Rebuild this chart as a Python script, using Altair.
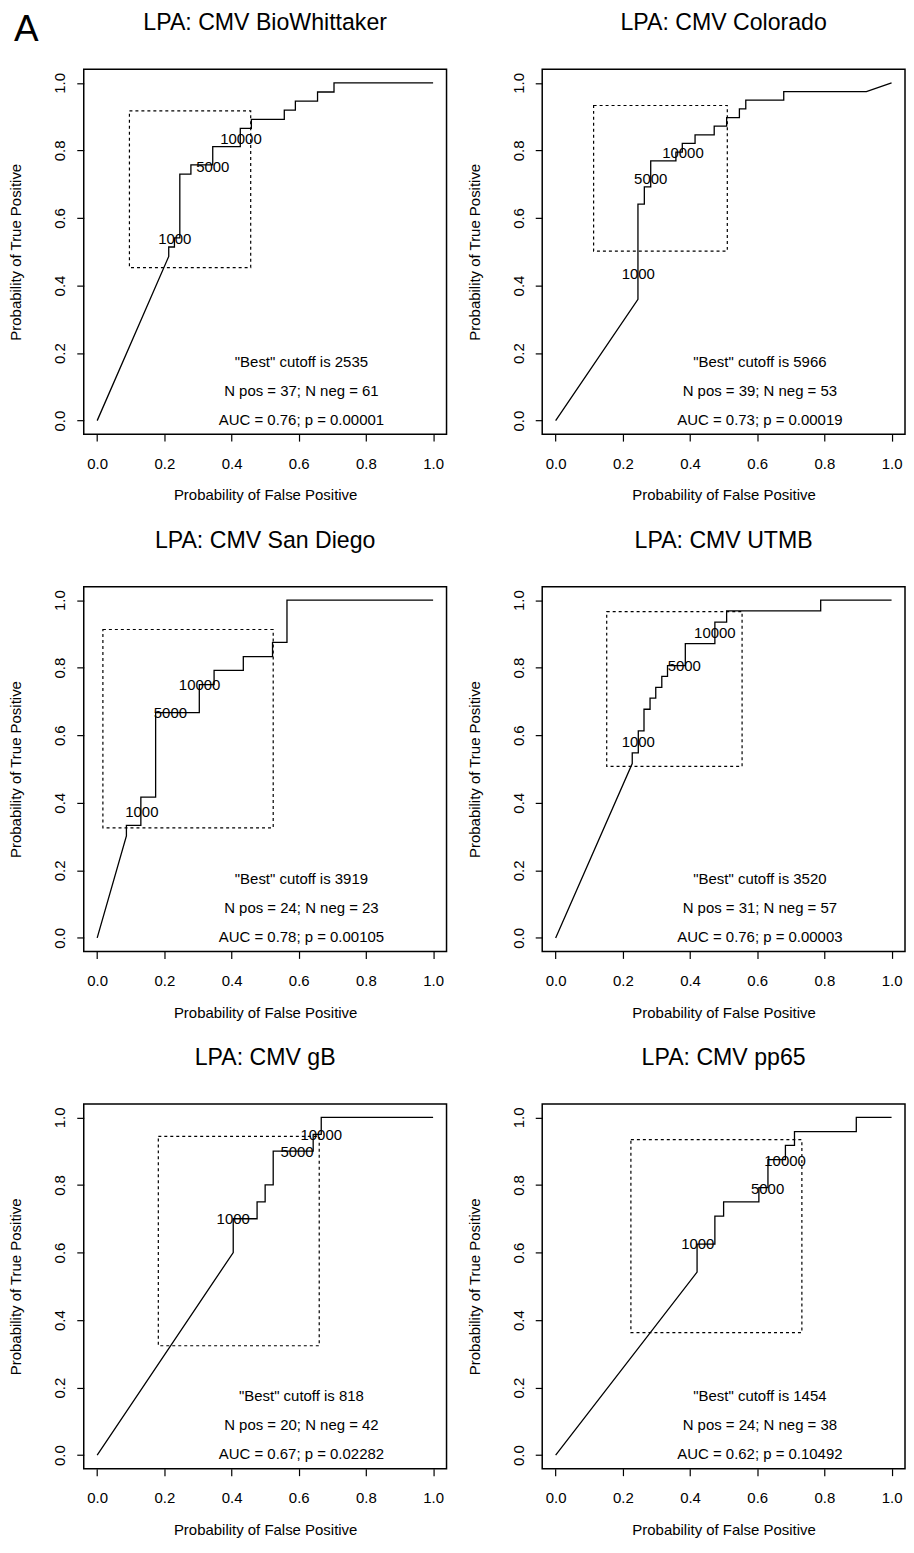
import altair as alt
import pandas as pd

FONT = "Liberation Sans"

# ---------------- data ----------------
titles = ["LPA: CMV BioWhittaker", "LPA: CMV Colorado", "LPA: CMV San Diego",
          "LPA: CMV UTMB", "LPA: CMV gB", "LPA: CMV pp65"]

curve_x = [
    [0, 0.213, 0.213, 0.230, 0.230, 0.246, 0.246, 0.279, 0.279, 0.344, 0.344, 0.426, 0.426,
     0.459, 0.459, 0.557, 0.557, 0.590, 0.590, 0.656, 0.656, 0.705, 0.705, 1.0],
    [0, 0.245, 0.245, 0.264, 0.264, 0.283, 0.283, 0.358, 0.358, 0.377, 0.377, 0.415, 0.415,
     0.472, 0.472, 0.509, 0.509, 0.547, 0.547, 0.566, 0.566, 0.679, 0.679, 0.925, 1.0],
    [0, 0.087, 0.087, 0.130, 0.130, 0.174, 0.174, 0.304, 0.304, 0.348, 0.348, 0.435, 0.435,
     0.522, 0.522, 0.565, 0.565, 1.0],
    [0, 0.228, 0.228, 0.246, 0.246, 0.263, 0.263, 0.281, 0.281, 0.298, 0.298, 0.316, 0.316,
     0.333, 0.333, 0.386, 0.386, 0.474, 0.474, 0.509, 0.509, 0.789, 0.789, 1.0],
    [0, 0.405, 0.405, 0.476, 0.476, 0.500, 0.500, 0.524, 0.524, 0.643, 0.643, 0.667, 0.667, 1.0],
    [0, 0.421, 0.421, 0.474, 0.474, 0.500, 0.500, 0.605, 0.605, 0.632, 0.632, 0.684, 0.684,
     0.711, 0.711, 0.895, 0.895, 1.0],
]
curve_y = [
    [0, 0.486, 0.514, 0.514, 0.541, 0.541, 0.730, 0.730, 0.757, 0.757, 0.811, 0.811, 0.865,
     0.865, 0.892, 0.892, 0.919, 0.919, 0.946, 0.946, 0.973, 0.973, 1.0, 1.0],
    [0, 0.359, 0.641, 0.641, 0.692, 0.692, 0.769, 0.769, 0.795, 0.795, 0.821, 0.821, 0.846,
     0.846, 0.872, 0.872, 0.897, 0.897, 0.923, 0.923, 0.949, 0.949, 0.974, 0.974, 1.0],
    [0, 0.302, 0.333, 0.333, 0.417, 0.417, 0.667, 0.667, 0.750, 0.750, 0.792, 0.792, 0.833,
     0.833, 0.875, 0.875, 1.0, 1.0],
    [0, 0.516, 0.548, 0.548, 0.613, 0.613, 0.677, 0.677, 0.710, 0.710, 0.742, 0.742, 0.774,
     0.774, 0.806, 0.806, 0.871, 0.871, 0.935, 0.935, 0.968, 0.968, 1.0, 1.0],
    [0, 0.60, 0.70, 0.70, 0.75, 0.75, 0.80, 0.80, 0.90, 0.90, 0.95, 0.95, 1.0, 1.0],
    [0, 0.542, 0.625, 0.625, 0.708, 0.708, 0.750, 0.750, 0.792, 0.792, 0.875, 0.875, 0.917,
     0.917, 0.958, 0.958, 1.0, 1.0],
]

# dashed rectangles
box_x1 = [0.096, 0.113, 0.017, 0.152, 0.182, 0.224]
box_x2 = [0.457, 0.511, 0.524, 0.555, 0.661, 0.733]
box_y1 = [0.453, 0.502, 0.326, 0.508, 0.324, 0.363]
box_y2 = [0.917, 0.933, 0.913, 0.966, 0.944, 0.934]

# cutoff labels on the curves
cut_labels = ["1000", "5000", "10000"]
label_x = [[0.231, 0.344, 0.428], [0.246, 0.283, 0.379], [0.133, 0.218, 0.305],
           [0.246, 0.383, 0.474], [0.405, 0.595, 0.667], [0.423, 0.631, 0.683]]
label_y = [[0.539, 0.752, 0.835], [0.434, 0.715, 0.791], [0.374, 0.666, 0.749],
           [0.579, 0.805, 0.902], [0.698, 0.899, 0.948], [0.625, 0.787, 0.872]]

best_cutoff = ["2535", "5966", "3919", "3520", "818", "1454"]
n_pos = ["37", "39", "24", "31", "20", "24"]
n_neg = ["61", "53", "23", "57", "42", "38"]
auc = ["0.76", "0.73", "0.78", "0.76", "0.67", "0.62"]
pval = ["0.00001", "0.00019", "0.00105", "0.00003", "0.02282", "0.10492"]
note_x = 0.608
note_y = [0.175, 0.088, 0.002]

ticks = [0.0, 0.2, 0.4, 0.6, 0.8, 1.0]

# ---------------- layout ----------------
W = 364
H = 366
DOM = [-0.04, 1.04]


def panel(i):
    xscale = alt.Scale(domain=DOM, nice=False, zero=False)
    yscale = alt.Scale(domain=DOM, nice=False, zero=False)
    xaxis = alt.Axis(values=ticks, format=".1f", title="Probability of False Positive",
                     grid=False, domain=False, tickSize=7, tickColor="black", tickWidth=1.2,
                     labelPadding=15, labelFontSize=15, labelFont=FONT, labelColor="black",
                     titleFontSize=15, titleFont=FONT, titleColor="black",
                     titleFontWeight="normal", titleBaseline="top", titleY=54)
    yaxis = alt.Axis(values=ticks, format=".1f", title="Probability of True Positive",
                     grid=False, domain=False, tickSize=7, tickColor="black", tickWidth=1.2,
                     labelAngle=270, labelAlign="center", labelBaseline="middle",
                     labelPadding=17, labelFontSize=15, labelFont=FONT, labelColor="black",
                     titleFontSize=15, titleFont=FONT, titleColor="black",
                     titleFontWeight="normal", titleAngle=270, titleBaseline="top",
                     titleX=-75)

    cdf = pd.DataFrame({"fpr": curve_x[i], "tpr": curve_y[i],
                        "ord": list(range(len(curve_x[i])))})
    line = alt.Chart(cdf).mark_line(color="black", strokeWidth=1.3).encode(
        x=alt.X("fpr:Q", scale=xscale, axis=xaxis),
        y=alt.Y("tpr:Q", scale=yscale, axis=yaxis),
        order=alt.Order("ord:Q"),
    )

    bdf = pd.DataFrame({"x1": [box_x1[i]], "x2": [box_x2[i]],
                        "y1": [box_y1[i]], "y2": [box_y2[i]]})
    box = alt.Chart(bdf).mark_rect(fillOpacity=0, stroke="black", strokeWidth=1.2,
                                   strokeDash=[3, 3]).encode(
        x=alt.X("x1:Q", scale=xscale, axis=xaxis), x2="x2:Q",
        y=alt.Y("y1:Q", scale=yscale, axis=yaxis), y2="y2:Q",
    )

    ldf = pd.DataFrame({"lx": label_x[i], "ly": label_y[i], "lab": cut_labels})
    labels = alt.Chart(ldf).mark_text(font=FONT, fontSize=15, color="black",
                                      align="center", baseline="middle").encode(
        x=alt.X("lx:Q", scale=xscale, axis=xaxis),
        y=alt.Y("ly:Q", scale=yscale, axis=yaxis),
        text="lab:N",
    )

    notes_text = [f'"Best" cutoff is {best_cutoff[i]}',
                  f"N pos = {n_pos[i]}; N neg = {n_neg[i]}",
                  f"AUC = {auc[i]}; p = {pval[i]}"]
    ndf = pd.DataFrame({"nx": [note_x] * 3, "ny": note_y, "txt": notes_text})
    notes = alt.Chart(ndf).mark_text(font=FONT, fontSize=15, color="black",
                                     align="center", baseline="middle").encode(
        x=alt.X("nx:Q", scale=xscale, axis=xaxis),
        y=alt.Y("ny:Q", scale=yscale, axis=yaxis),
        text="txt:N",
    )

    tdf = pd.DataFrame({"t": [titles[i]]})
    title = alt.Chart(tdf).mark_text(font=FONT, fontSize=23.2, color="black",
                                     align="center", baseline="top").encode(
        x=alt.value(W / 2), y=alt.value(-57), text="t:N")

    layers = [box, line, labels, notes, title]
    if i == 0:
        adf = pd.DataFrame({"t": ["A"]})
        letter = alt.Chart(adf).mark_text(font=FONT, fontSize=37, color="black",
                                          align="left", baseline="top").encode(
            x=alt.value(-70), y=alt.value(-57), text="t:N")
        layers.append(letter)
    return alt.layer(*layers).properties(
        width=W, height=H,
        view=alt.ViewBackground(stroke="black", strokeWidth=1.5),
    )


chart = alt.concat(*[panel(i) for i in range(6)], columns=2,
                   spacing={"row": 153, "column": 96}, bounds="flush").properties(
    padding={"left": 0, "top": 0, "right": 0, "bottom": 0}
).configure_view(stroke="black", strokeWidth=1.5)

chart.save("out.html", embed_options={"renderer": "svg", "actions": False})
